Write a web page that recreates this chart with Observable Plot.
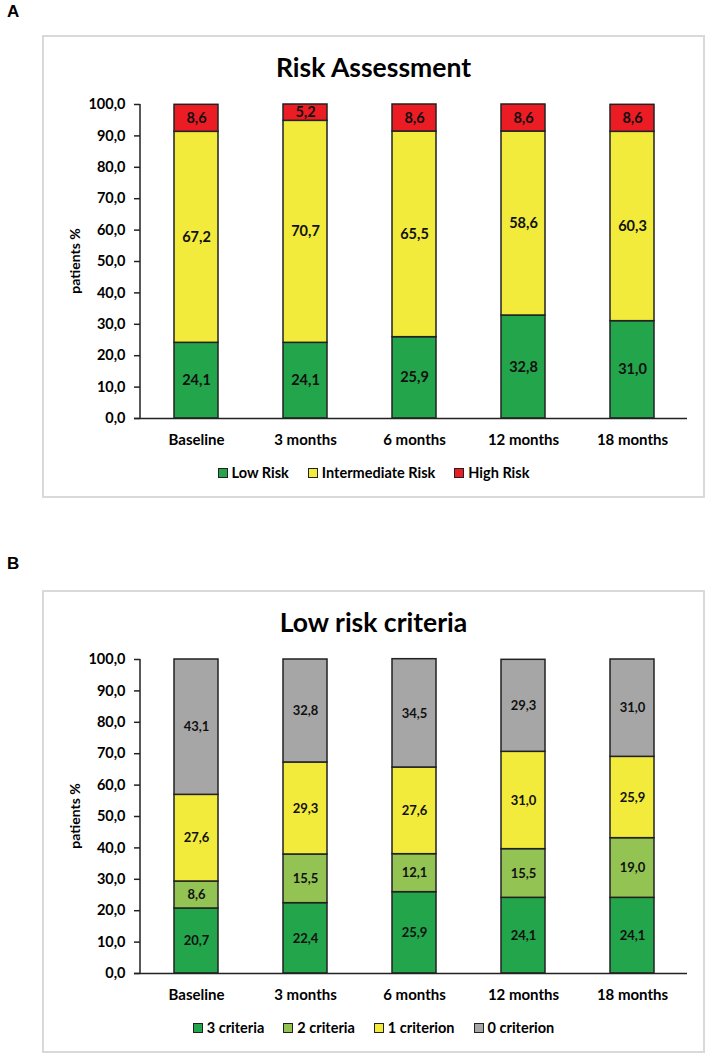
<!DOCTYPE html>
<html>
<head>
<meta charset="utf-8">
<script src="https://cdn.jsdelivr.net/npm/d3@7"></script>
<script src="https://cdn.jsdelivr.net/npm/@observablehq/plot@0.6"></script>
<style>
  html, body { margin: 0; padding: 0; background: #fff; }
  #page { position: relative; width: 709px; height: 1056px; font-family: "Lato", sans-serif; color: #000; }
  .letter { position: absolute; left: 7px; font-family: "Liberation Sans", Arial, sans-serif; font-weight: 700; font-size: 17px; line-height: 1; }
  .box { position: absolute; left: 42px; width: 663px; height: 463px; box-sizing: border-box; border: 2px solid #d9d9d9; background: #fff; }
  .title { position: absolute; left: 42px; width: 663px; text-align: center; font-weight: 700; font-size: 26.5px; line-height: 1; }
  .plot { position: absolute; left: 42px; }
  .ylabel { position: absolute; width: 200px; text-align: center; font-weight: 700; font-size: 14px; line-height: 1; transform: rotate(-90deg); transform-origin: center center; }
  .legend { position: absolute; left: 42px; width: 663px; display: flex; justify-content: center; gap: 19px; font-weight: 700; font-size: 14.5px; line-height: 1; }
  .legend .item { display: flex; align-items: center; gap: 4px; }
  .legend .sw { width: 8px; height: 8px; border: 1px solid #222; }
</style>
</head>
<body>
<div id="page"></div>
<script>
const categories = ["Baseline", "3 months", "6 months", "12 months", "18 months"];
const yTicks = [0, 10, 20, 30, 40, 50, 60, 70, 80, 90, 100];

const riskSeries = ["Low Risk", "Intermediate Risk", "High Risk"];
const lowRisk = [24.1, 24.1, 25.9, 32.8, 31.0];
const intermediateRisk = [67.2, 70.7, 65.5, 58.6, 60.3];
const highRisk = [8.6, 5.2, 8.6, 8.6, 8.6];
const riskColors = ["#22a54b", "#f2eb3b", "#ec1c24"];

const critSeries = ["3 criteria", "2 criteria", "1 criterion", "0 criterion"];
const crit3 = [20.7, 22.4, 25.9, 24.1, 24.1];
const crit2 = [8.6, 15.5, 12.1, 15.5, 19.0];
const crit1 = [27.6, 29.3, 27.6, 31.0, 25.9];
const crit0 = [43.1, 32.8, 34.5, 29.3, 31.0];
const critColors = ["#22a54b", "#92c353", "#f2eb3b", "#a6a6a6"];

const fmt = v => v.toFixed(1).replace(".", ",");

function buildData(series, arrays) {
  const rows = [];
  series.forEach((s, i) => {
    categories.forEach((c, j) => rows.push({cat: c, series: s, value: arrays[i][j]}));
  });
  return rows;
}

function makePlot(series, arrays, colors, labelSize) {
  const data = buildData(series, arrays);
  const plot = Plot.plot({
    width: 663,
    height: 360,
    marginLeft: 98,
    marginRight: 18,
    marginTop: 14,
    marginBottom: 32,
    style: {fontFamily: "Lato, sans-serif", fontWeight: 700, fontSize: "14.5px", color: "#000", background: "transparent", overflow: "visible"},
    x: {domain: categories, paddingInner: 0.6, paddingOuter: 0.3, label: null},
    y: {domain: [0, 100], label: null},
    color: {domain: series, range: colors},
    marks: [
      Plot.axisY(yTicks, {tickSize: 6, tickPadding: 9, tickFormat: fmt, label: null, stroke: "#222", strokeWidth: 1.5, fill: "#000", fontSize: 14.5}),
      Plot.axisX({tickSize: 0, tickPadding: 16, label: null, fill: "#000", fontSize: 15}),
      Plot.barY(data, {x: "cat", y: "value", fill: "series", order: series, stroke: "#222", strokeWidth: 1.5}),
      Plot.text(data, Plot.stackY({x: "cat", y: "value", z: "series", order: series, text: d => fmt(d.value), fontSize: labelSize, fontWeight: 700, fill: "#111"})),
      Plot.ruleY([0], {stroke: "#222", strokeWidth: 1.5, insetLeft: -6})
    ]
  });
  // y-axis domain line from the plot's own scales
  const xs = plot.scale("x"), ys = plot.scale("y");
  d3.select(plot).append("line")
    .attr("x1", xs.range[0]).attr("x2", xs.range[0])
    .attr("y1", ys.apply(0)).attr("y2", ys.apply(100))
    .attr("stroke", "#222").attr("stroke-width", 1.5);
  return plot;
}

function addPanel(page, letter, top, title, series, arrays, colors, labelSize, letterTop) {
  const L = document.createElement("div");
  L.className = "letter"; L.textContent = letter; L.style.top = letterTop + "px";
  page.appendChild(L);

  const box = document.createElement("div");
  box.className = "box"; box.style.top = top + "px";
  page.appendChild(box);

  const t = document.createElement("div");
  t.className = "title"; t.textContent = title; t.style.top = (top + 19) + "px";
  page.appendChild(t);

  const holder = document.createElement("div");
  holder.className = "plot"; holder.style.top = (top + 55) + "px";
  holder.appendChild(makePlot(series, arrays, colors, labelSize));
  page.appendChild(holder);

  const yl = document.createElement("div");
  yl.className = "ylabel"; yl.textContent = "patients %";
  yl.style.left = (75 - 100) + "px";
  yl.style.top = (top + 55 + 14 + 157 - 7) + "px";
  page.appendChild(yl);

  const lg = document.createElement("div");
  lg.className = "legend"; lg.style.top = (top + 431) + "px";
  series.forEach((s, i) => {
    const it = document.createElement("div"); it.className = "item";
    const sw = document.createElement("span"); sw.className = "sw"; sw.style.background = colors[i];
    const tx = document.createElement("span"); tx.textContent = s;
    it.appendChild(sw); it.appendChild(tx); lg.appendChild(it);
  });
  page.appendChild(lg);
}

const page = document.getElementById("page");
addPanel(page, "A", 35, "Risk Assessment", riskSeries, [lowRisk, intermediateRisk, highRisk], riskColors, 14.5, 3);
addPanel(page, "B", 590, "Low risk criteria", critSeries, [crit3, crit2, crit1, crit0], critColors, 13, 555);
</script>
</body>
</html>
